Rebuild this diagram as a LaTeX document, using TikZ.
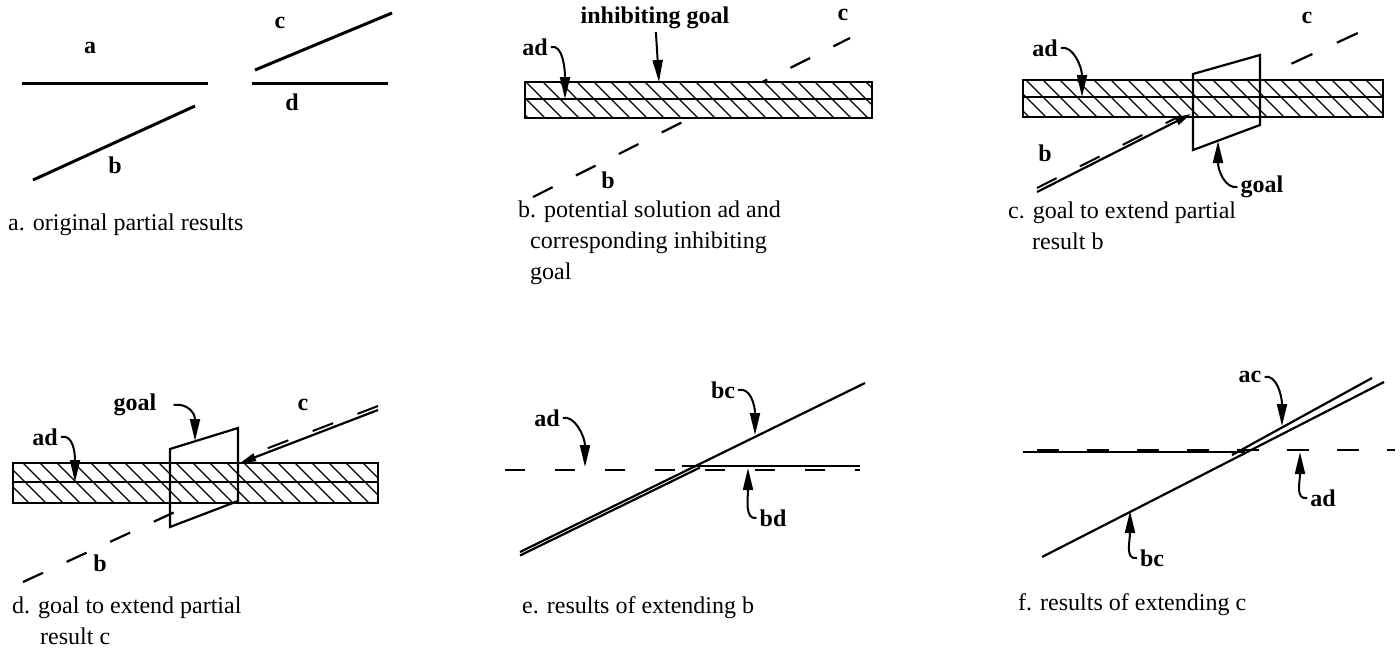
\documentclass[tikz,border=0pt]{standalone}
\usepackage{fontspec}
\setmainfont{Liberation Serif}
\usetikzlibrary{arrows.meta}

\begin{document}
\begin{tikzpicture}[
    x=1pt, y=-1pt,
    font=\fontsize{24}{31}\selectfont,
    partLine/.style={line width=2.2pt},
    oldLine/.style={line width=2.2pt, dash pattern=on 22pt off 26pt},
    bandBox/.style={draw, line width=2.4pt},
    hatchLine/.style={line width=1.1pt},
    goalBox/.style={draw, line width=2.2pt},
    pointer/.style={line width=2pt, -{Triangle[length=22pt, width=10pt]}},
    growTip/.style={-{Triangle[length=16pt, width=8pt]}},
    lbl/.style={font=\fontsize{24}{31}\selectfont\bfseries, inner sep=3pt},
    caption/.style={align=left, inner sep=0pt, anchor=north west}
]
    \useasboundingbox (0,0) rectangle (1400,653);

    % a. original partial results
    \draw[partLine, line width=3pt] (22,83) -- (208,83);
    \draw[partLine, line width=3pt] (33,180) -- (195,106);
    \draw[partLine, line width=3pt] (255,70) -- (392,13);
    \draw[partLine, line width=3pt] (252,83) -- (388,83);
    \node[lbl] (aA) at (90,48) {a};
    \node[lbl] (aB) at (115,165) {b};
    \node[lbl] (aC) at (280,23) {c};
    \node[lbl] (aD) at (292,102) {d};
    \node[caption, anchor=west] (capA) at (8,225) {a. original partial results};

    % b. potential solution and inhibiting goal
    \draw[oldLine] (533,197) -- (850,38);
    \fill[white] (525,82) rectangle (872,118);
    \begin{scope}
        \clip (525,82) rectangle (872,118);
        \foreach \x in {490,507,...,880}
            \draw[hatchLine] (\x,80) -- ++(40,40);
    \end{scope}
    \draw[bandBox] (525,82) rectangle (872,118);
    \draw[partLine] (525,99) -- (872,99);
    \node[lbl] (inhib) at (655,18) {inhibiting goal};
    \coordinate (inhibTip) at (659,82);
    \draw[pointer] (inhib) -- (inhibTip);
    \node[lbl] (adB) at (535,47) {ad};
    \coordinate (adBTip) at (565,99);
    \draw[pointer] (adB.east) .. controls +(12,-3) and +(0,-30) .. (adBTip);
    \node[lbl] (bB) at (608,180) {b};
    \node[lbl] (cB) at (843,15) {c};
    \node[caption] (capB) at (518,201) {b. potential solution ad and\\\hspace*{12pt}corresponding inhibiting\\\hspace*{12pt}goal};

    % c. goal to extend b
    \fill[white] (1023,80) rectangle (1383,117);
    \begin{scope}
        \clip (1023,80) rectangle (1383,117);
        \foreach \x in {990,1007,...,1390}
            \draw[hatchLine] (\x,78) -- ++(40,40);
    \end{scope}
    \draw[bandBox] (1023,80) rectangle (1383,117);
    \draw[partLine] (1023,97) -- (1383,97);
    \draw[goalBox] (1193,74) -- (1260,55) -- (1260,125) -- (1193,150) -- cycle;
    \draw[oldLine, dash pattern=on 23pt off 27pt, dash phase=23pt] (1267,75) -- (1360,32);
    \draw[partLine, growTip] (1037,192) -- (1191,114);
    \draw[oldLine, line width=2pt] (1037,188) -- (1180,116);
    \node[lbl] (bC) at (1045,153) {b};
    \node[lbl] (cC) at (1307,18) {c};
    \node[lbl] (adC) at (1045,48) {ad};
    \coordinate (adCTip) at (1082,97);
    \draw[pointer] (adC.east) .. controls +(12,-3) and +(0,-30) .. (adCTip);
    \node[lbl] (goalC) at (1262,187) {goal};
    \coordinate (goalCTip) at (1218,141);
    \draw[pointer] (goalC.west) .. controls +(-12,2) and +(0,30) .. (goalCTip);
    \node[caption] (capC) at (1008,202) {c. goal to extend partial\\\hspace*{24pt}result b};

    % d. goal to extend c
    \draw[oldLine] (23,582) -- (190,505);
    \fill[white] (13,463) rectangle (378,503);
    \begin{scope}
        \clip (13,463) rectangle (378,503);
        \foreach \x in {-30,-13,...,385}
            \draw[hatchLine] (\x,461) -- ++(44,44);
    \end{scope}
    \draw[bandBox] (13,463) rectangle (378,503);
    \draw[partLine] (13,482) -- (378,482);
    \draw[goalBox] (170,449) -- (238,428) -- (238,501) -- (170,527) -- cycle;
    \draw[partLine, growTip] (378,410) -- (240,463);
    \draw[oldLine, line width=2pt] (378,406) -- (250,455);
    \node[lbl] (bD) at (100,563) {b};
    \node[lbl] (cD) at (303,405) {c};
    \node[lbl] (goalD) at (135,405) {goal};
    \coordinate (goalDTip) at (195,441);
    \draw[pointer] ([xshift=14pt]goalD.east) .. controls +(14,-2) and +(0,-28) .. (goalDTip);
    \node[lbl] (adD) at (45,437) {ad};
    \coordinate (adDTip) at (75,482);
    \draw[pointer] (adD.east) .. controls +(12,-3) and +(0,-30) .. (adDTip);
    \node[caption] (capD) at (12,597) {d. goal to extend partial\\\hspace*{28pt}result c};

    % e. results of extending b
    \draw[oldLine, dash pattern=on 20pt off 30pt] (505,470) -- (860,470);
    \draw[partLine] (682,466) -- (860,466);
    \draw[partLine] (520,552) -- (865,383);
    \draw[partLine] (520,555.5) -- (700,467.5);
    \node[lbl] (bcE) at (723,390) {bc};
    \coordinate (bcETip) at (755,435);
    \draw[pointer] (bcE.east) .. controls +(12,-3) and +(0,-30) .. (bcETip);
    \node[lbl] (adE) at (547,418) {ad};
    \coordinate (adETip) at (585,467);
    \draw[pointer] (adE.east) .. controls +(12,-3) and +(0,-30) .. (adETip);
    \node[lbl] (bdE) at (773,518) {bd};
    \coordinate (bdETip) at (748,468);
    \draw[pointer] (bdE.west) .. controls +(-12,2) and +(0,30) .. (bdETip);
    \node[caption, anchor=west] (capE) at (522,608) {e. results of extending b};

    % f. results of extending c
    \draw[oldLine, dash pattern=on 22pt off 28pt] (1037,450) -- (1395,450);
    \draw[partLine] (1023,452) -- (1245,452);
    \draw[partLine] (1042,557) -- (1384,382);
    \draw[partLine] (1232,455) -- (1372,378);
    \node[lbl] (acF) at (1250,377) {ac};
    \coordinate (acFTip) at (1282,426);
    \draw[pointer] (acF.east) .. controls +(12,-3) and +(0,-30) .. (acFTip);
    \node[lbl] (adF) at (1323,498) {ad};
    \coordinate (adFTip) at (1300,452);
    \draw[pointer] (adF.west) .. controls +(-12,2) and +(0,30) .. (adFTip);
    \node[lbl] (bcF) at (1152,558) {bc};
    \coordinate (bcFTip) at (1130,511);
    \draw[pointer] (bcF.west) .. controls +(-12,2) and +(0,30) .. (bcFTip);
    \node[caption, anchor=west] (capF) at (1018,605) {f. results of extending c};

\end{tikzpicture}
\end{document}
